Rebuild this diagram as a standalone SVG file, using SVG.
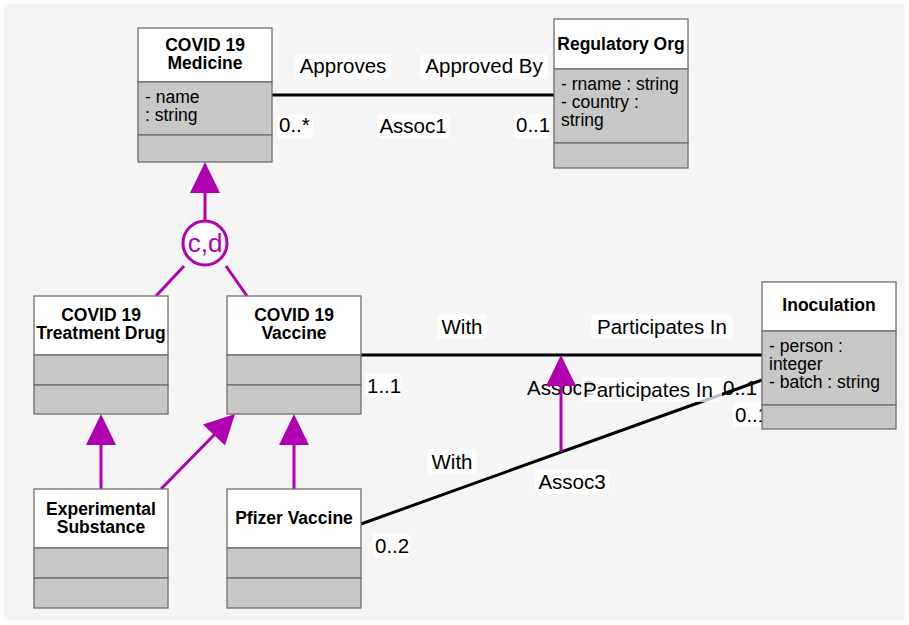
<svg xmlns="http://www.w3.org/2000/svg" width="909" height="625" viewBox="0 0 909 625">
<defs>
<style>
.bg{fill:#f5f5f5}
.hd{fill:#ffffff;stroke:#6e6e6e;stroke-width:1.3}
.cp{fill:#c8c8c8;stroke:#6e6e6e;stroke-width:1.3}
.t{font-family:"Liberation Sans",Arial,sans-serif;font-size:17.5px;font-weight:bold;fill:#000;text-anchor:middle}
.a{font-family:"Liberation Sans",Arial,sans-serif;font-size:17.5px;fill:#000}
.lb{font-family:"Liberation Sans",Arial,sans-serif;font-size:20.5px;fill:#000}
.lbg{fill:#ffffff;fill-opacity:0.75}
.assoc{stroke:#000;stroke-width:3;fill:none}
.gen{stroke:#b000b0;stroke-width:3;fill:none}
.tri{fill:#b000b0}
</style>
</defs>
<rect class="bg" x="4" y="4" width="901" height="616"/>

<g id="connectors">
  <!-- Assoc1 -->
  <line class="assoc" x1="272" y1="95" x2="554" y2="95"/>
  <!-- Assoc2 -->
  <line class="assoc" x1="361" y1="355" x2="762" y2="355"/>
  <!-- Assoc3 -->
  <line class="assoc" x1="361" y1="524" x2="762" y2="380"/>
  <!-- generalization set to Medicine -->
  <line class="gen" x1="205" y1="190" x2="205" y2="221"/>
  <polygon class="tri" points="205,162 190,193 220,193"/>
  <line class="gen" x1="184" y1="266" x2="156" y2="296"/>
  <line class="gen" x1="226" y1="266" x2="247" y2="296"/>
  <circle cx="205" cy="243" r="22" fill="#ffffff" stroke="#b000b0" stroke-width="3"/>
  <text x="205" y="252" font-family="Liberation Sans,Arial,sans-serif" font-size="26" fill="#b000b0" text-anchor="middle">c,d</text>
  <!-- Experimental -> Treatment Drug -->
  <line class="gen" x1="101" y1="442" x2="101" y2="489"/>
  <polygon class="tri" points="101,414 86,445 116,445"/>
  <!-- Pfizer -> Vaccine -->
  <line class="gen" x1="294" y1="442" x2="294" y2="489"/>
  <polygon class="tri" points="294,414 279,445 309,445"/>
  <!-- Experimental -> Vaccine -->
  <line class="gen" x1="161" y1="489" x2="216" y2="433"/>
  <polygon class="tri" points="235,414 203,424.5 225,445.5"/>

  <!-- Assoc1 labels -->
  <rect class="lbg" x="294" y="54" width="97" height="25" rx="4"/>
  <text class="lb" x="343" y="73" text-anchor="middle">Approves</text>
  <rect class="lbg" x="420" y="54" width="128" height="25" rx="4"/>
  <text class="lb" x="484" y="73" text-anchor="middle">Approved By</text>
  <rect class="lbg" x="277" y="114" width="36" height="25" rx="4"/>
  <text class="lb" x="279" y="132">0..*</text>
  <rect class="lbg" x="377" y="114" width="73" height="25" rx="4"/>
  <text class="lb" x="413" y="133" text-anchor="middle">Assoc1</text>
  <rect class="lbg" x="514" y="114" width="36" height="25" rx="4"/>
  <text class="lb" x="516" y="132">0..1</text>

  <!-- Assoc2 labels -->
  <rect class="lbg" x="437" y="314" width="50" height="25" rx="4"/>
  <text class="lb" x="462" y="334" text-anchor="middle">With</text>
  <rect class="lbg" x="591" y="314" width="142" height="25" rx="4"/>
  <text class="lb" x="662" y="334" text-anchor="middle">Participates In</text>
  <rect class="lbg" x="365" y="373" width="36" height="25" rx="4"/>
  <text class="lb" x="367" y="393">1..1</text>
  <text class="lb" x="527" y="395">Assoc2</text>
  <!-- Assoc class arrow -->
  <line class="gen" x1="561" y1="383" x2="561" y2="452"/>
  <polygon class="tri" points="561,355 546,386 576,386"/>

  <!-- Assoc3 labels -->
  <rect class="lbg" x="581" y="377" width="141" height="25" rx="4"/>
  <text class="lb" x="583" y="397">Participates In</text>
  <text class="lb" x="723" y="395">0..1</text>
  <rect class="lbg" x="733" y="402" width="36" height="25" rx="4"/>
  <text class="lb" x="735" y="422">0..1</text>
  <rect class="lbg" x="427" y="449" width="50" height="25" rx="4"/>
  <text class="lb" x="452" y="469" text-anchor="middle">With</text>
  <rect class="lbg" x="535" y="469" width="74" height="25" rx="4"/>
  <text class="lb" x="572" y="489" text-anchor="middle">Assoc3</text>
  <rect class="lbg" x="373" y="533" width="37" height="25" rx="4"/>
  <text class="lb" x="375" y="553">0..2</text>
</g>

<g id="covid19-medicine">
  <rect class="hd" x="138" y="28" width="134" height="54"/>
  <rect class="cp" x="138" y="82" width="134" height="53"/>
  <rect class="cp" x="138" y="135" width="134" height="27"/>
  <text class="t" x="205" y="51">COVID 19</text>
  <text class="t" x="205" y="69">Medicine</text>
  <text class="a" x="145" y="103">- name</text>
  <text class="a" x="145" y="121">: string</text>
</g>

<g id="regulatory-org">
  <rect class="hd" x="554" y="19" width="134" height="50"/>
  <rect class="cp" x="554" y="69" width="134" height="74"/>
  <rect class="cp" x="554" y="143" width="134" height="25"/>
  <text class="t" x="621" y="50">Regulatory Org</text>
  <text class="a" x="561" y="90">- rname : string</text>
  <text class="a" x="561" y="108">- country :</text>
  <text class="a" x="561" y="126">string</text>
</g>

<g id="covid19-treatment-drug">
  <rect class="hd" x="34" y="296" width="134" height="59"/>
  <rect class="cp" x="34" y="355" width="134" height="30"/>
  <rect class="cp" x="34" y="385" width="134" height="29"/>
  <text class="t" x="101" y="321">COVID 19</text>
  <text class="t" x="101" y="339">Treatment Drug</text>
</g>

<g id="covid19-vaccine">
  <rect class="hd" x="227" y="296" width="134" height="59"/>
  <rect class="cp" x="227" y="355" width="134" height="30"/>
  <rect class="cp" x="227" y="385" width="134" height="29"/>
  <text class="t" x="294" y="321">COVID 19</text>
  <text class="t" x="294" y="339">Vaccine</text>
</g>

<g id="inoculation">
  <rect class="hd" x="762" y="282" width="134" height="49"/>
  <rect class="cp" x="762" y="331" width="134" height="74"/>
  <rect class="cp" x="762" y="405" width="134" height="24"/>
  <text class="t" x="829" y="311">Inoculation</text>
  <text class="a" x="769" y="352">- person :</text>
  <text class="a" x="769" y="370">integer</text>
  <text class="a" x="769" y="388">- batch : string</text>
</g>

<g id="experimental-substance">
  <rect class="hd" x="34" y="489" width="134" height="59"/>
  <rect class="cp" x="34" y="548" width="134" height="30"/>
  <rect class="cp" x="34" y="578" width="134" height="30"/>
  <text class="t" x="101" y="515">Experimental</text>
  <text class="t" x="101" y="533">Substance</text>
</g>

<g id="pfizer-vaccine">
  <rect class="hd" x="227" y="489" width="134" height="59"/>
  <rect class="cp" x="227" y="548" width="134" height="30"/>
  <rect class="cp" x="227" y="578" width="134" height="30"/>
  <text class="t" x="294" y="524">Pfizer Vaccine</text>
</g>
</svg>
